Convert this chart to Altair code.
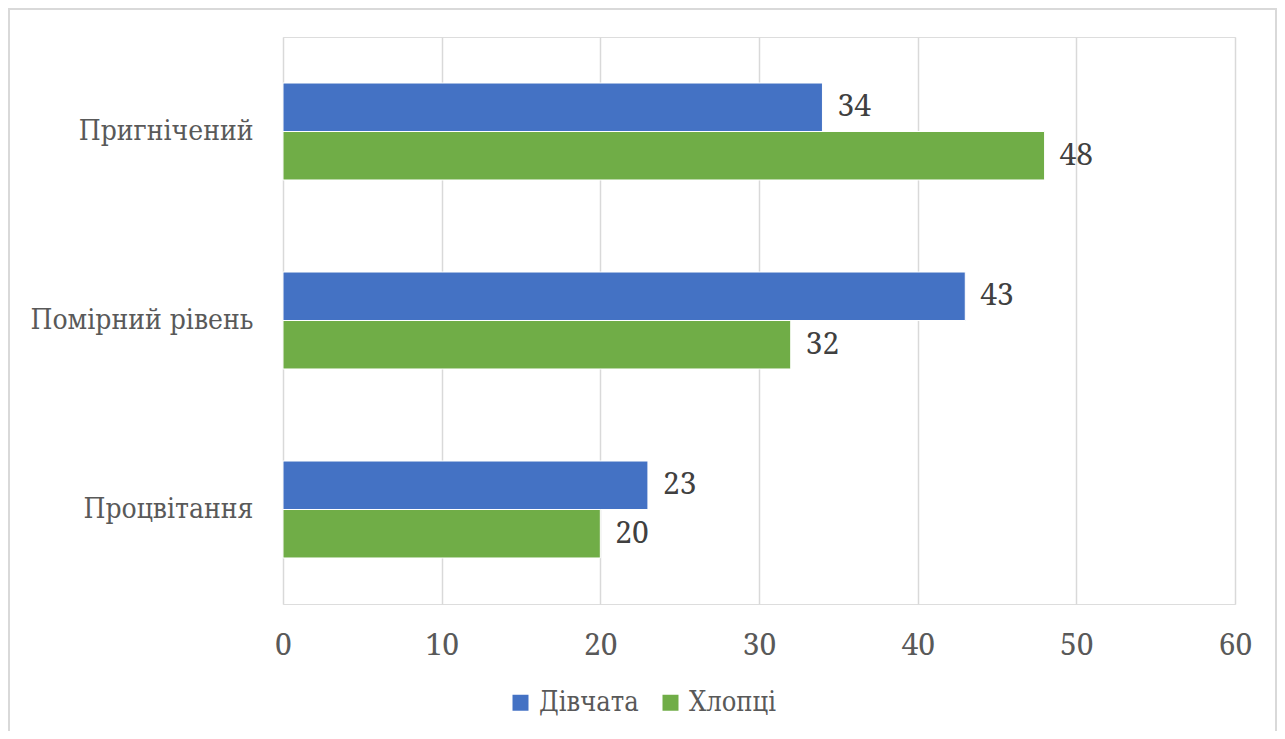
import altair as alt
import pandas as pd

categories = ["Пригнічений", "Помірний рівень", "Процвітання"]
series = ["Дівчата", "Хлопці"]
girls = [34, 43, 23]
boys = [48, 32, 20]
colors = ["#4472C4", "#70AD47"]
x_ticks = [0, 10, 20, 30, 40, 50, 60]

rows = []
for c, g, b in zip(categories, girls, boys):
    rows.append({"cat": c, "grp": series[0], "val": g})
    rows.append({"cat": c, "grp": series[1], "val": b})
df = pd.DataFrame(rows)

W, H = 952, 567
PL, PT, PR, PB = 275, 29, 42, 127

cyr_font = "DejaVu Serif Condensed"
num_font = "Noto Serif"

y_enc = alt.Y("cat:N", sort=categories, title=None,
              scale=alt.Scale(paddingInner=0.487, paddingOuter=0.2435),
              axis=alt.Axis(domain=False, ticks=False, grid=False, labelFont=cyr_font,
                            labelFontSize=28, labelColor="#595959", labelPadding=30,
                            labelLimit=500))
x_enc = alt.X("val:Q", title=None,
              scale=alt.Scale(domain=[0, 60], nice=False),
              axis=alt.Axis(values=x_ticks, domain=False, ticks=False, grid=True,
                            gridColor="#d9d9d9", gridWidth=1.5, labelFont=num_font,
                            labelFontSize=30, labelColor="#595959", labelPadding=26,
                            labelFlush=False))
yoff = alt.YOffset("grp:N", sort=series, scale=alt.Scale(paddingInner=0, paddingOuter=0))

bars = alt.Chart(df).mark_bar(stroke="white", strokeWidth=1).encode(
    x=x_enc, y=y_enc, yOffset=yoff,
    color=alt.Color("grp:N", sort=series, title=None,
                    scale=alt.Scale(domain=series, range=colors),
                    legend=alt.Legend(orient="none", direction="horizontal",
                                      legendX=224, legendY=652,
                                      symbolType="square", symbolSize=256,
                                      symbolStrokeWidth=0,
                                      labelFont=cyr_font, labelFontSize=27,
                                      labelColor="#595959", columnPadding=18,
                                      labelOffset=5)),
)

labels = alt.Chart(df).mark_text(align="left", baseline="middle", dx=15,
                                 font=num_font, fontSize=30, color="#404040").encode(
    x="val:Q", y=alt.Y("cat:N", sort=categories), yOffset=alt.YOffset("grp:N", sort=series),
    text="val:Q",
)

frame = alt.Chart(pd.DataFrame({"a": [0]})).mark_rect(
    fill=None, stroke="#d9d9d9", strokeWidth=2).encode(
    x=alt.value(-PL + 1), x2=alt.value(W + PR - 1),
    y=alt.value(-PT + 1), y2=alt.value(H + PB + 20),
)

chart = alt.layer(frame, bars, labels).properties(
    width=W, height=H,
    autosize=alt.AutoSizeParams(type="none"),
    padding={"left": PL, "top": PT, "right": PR, "bottom": PB},
).configure_view(stroke=None).configure(background="white")

chart.save("out.html", embed_options={"renderer": "svg", "actions": False})
